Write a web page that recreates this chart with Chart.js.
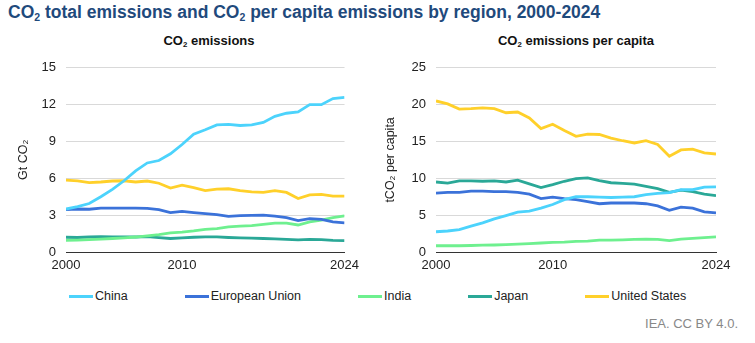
<!DOCTYPE html>
<html>
<head>
<meta charset="utf-8">
<script src="https://cdn.jsdelivr.net/npm/chart.js@4.4.1/dist/chart.umd.min.js"></script>
<style>
  body { margin: 0; width: 755px; height: 343px; background: #fff; position: relative; overflow: hidden;
         font-family: 'Liberation Sans', Arial, sans-serif; }
  .title { position: absolute; left: 8px; top: 2px; font-size: 17.5px; font-weight: bold; color: #1f4a7c; white-space: nowrap; }
  .sub { position: absolute; top: 33px; font-size: 13px; font-weight: bold; color: #111; transform: translateX(-50%); white-space: nowrap; }
  sub { font-size: 0.6em; vertical-align: -0.25em; line-height: 0; }
  .box { position: absolute; top: 50px; }
  #legend { position: absolute; left: 69px; top: 289px; display: flex; gap: 57px; font-size: 12.5px; color: #222; }
  #legend .item { display: flex; align-items: center; white-space: nowrap; }
  #legend .swatch { width: 24px; height: 3px; margin-right: 2px; }
  .source { position: absolute; right: 17px; top: 316px; font-size: 13px; color: #888; }
</style>
</head>
<body>
<div class="title">CO<sub>2</sub> total emissions and CO<sub>2</sub> per capita emissions by region, 2000-2024</div>
<div class="sub" style="left:209px">CO<sub>2</sub> emissions</div>
<div class="sub" style="left:576px">CO<sub>2</sub> emissions per capita</div>
<div class="box" style="left:0"><canvas id="total" width="365" height="225"></canvas></div>
<div class="box" style="left:370px"><canvas id="percap" width="385" height="225"></canvas></div>
<div id="legend"></div>
<div class="source">IEA. CC BY 4.0.</div>
<script>
const years = [2000,2001,2002,2003,2004,2005,2006,2007,2008,2009,2010,2011,2012,2013,2014,2015,2016,2017,2018,2019,2020,2021,2022,2023,2024];
const xTicks = [2000, 2010, 2024];
const regions = ['China', 'European Union', 'India', 'Japan', 'United States'];
const colors = ['#4cd3fc', '#3b72d9', '#6ef08f', '#2aa897', '#ffd02a'];

// Gt CO2
const totalChina = [3.5,3.7,3.95,4.5,5.1,5.8,6.6,7.25,7.45,8.0,8.75,9.6,9.95,10.35,10.4,10.3,10.35,10.55,11.05,11.3,11.4,12.0,12.0,12.5,12.6];
const totalEU = [3.45,3.5,3.48,3.57,3.58,3.57,3.57,3.55,3.45,3.2,3.3,3.2,3.12,3.05,2.9,2.97,2.98,3.0,2.93,2.8,2.55,2.72,2.65,2.45,2.38];
const totalIndia = [0.95,0.97,1.0,1.05,1.1,1.15,1.22,1.32,1.42,1.55,1.62,1.72,1.85,1.9,2.05,2.1,2.15,2.25,2.35,2.35,2.2,2.45,2.6,2.8,2.95];
const totalJapan = [1.2,1.18,1.22,1.24,1.22,1.23,1.22,1.25,1.17,1.1,1.15,1.2,1.23,1.23,1.18,1.15,1.13,1.1,1.07,1.02,0.99,1.02,1.0,0.95,0.93];
const totalUS = [5.85,5.8,5.65,5.7,5.78,5.8,5.7,5.78,5.6,5.2,5.45,5.25,5.0,5.12,5.15,5.0,4.9,4.85,5.0,4.85,4.35,4.65,4.7,4.55,4.55];

// tCO2 per capita
const capChina = [2.75,2.85,3.05,3.5,3.95,4.5,4.95,5.4,5.55,5.95,6.45,7.1,7.5,7.5,7.45,7.4,7.45,7.5,7.8,7.95,8.05,8.45,8.45,8.8,8.85];
const capEU = [8.0,8.1,8.1,8.25,8.25,8.2,8.2,8.1,7.85,7.25,7.45,7.25,7.1,6.85,6.55,6.65,6.65,6.65,6.55,6.25,5.65,6.1,5.95,5.45,5.3];
const capIndia = [0.85,0.85,0.85,0.88,0.92,0.95,1.0,1.08,1.15,1.22,1.3,1.35,1.45,1.48,1.6,1.6,1.65,1.7,1.75,1.7,1.55,1.75,1.85,1.95,2.05];
const capJapan = [9.5,9.35,9.65,9.65,9.6,9.65,9.5,9.75,9.25,8.75,9.15,9.6,9.95,10.05,9.7,9.4,9.3,9.2,8.9,8.6,8.1,8.4,8.2,7.85,7.65];
const capUS = [20.5,20.1,19.4,19.45,19.55,19.45,18.9,19.0,18.2,16.75,17.35,16.5,15.7,16.0,15.95,15.45,15.1,14.8,15.1,14.6,13.0,13.85,13.95,13.45,13.3];

Chart.defaults.font.family = "'Liberation Sans', Arial, sans-serif";
Chart.defaults.color = '#222';

function makeChart(id, series, yMax, yStep, yTitle, titlePad, rightPad) {
  new Chart(document.getElementById(id), {
    type: 'line',
    data: {
      datasets: series.map((vals, i) => ({
        label: regions[i],
        data: vals.map((v, j) => ({ x: years[j], y: v })),
        borderColor: colors[i],
        backgroundColor: colors[i],
        borderWidth: 2.8,
        pointRadius: 0,
        tension: 0
      }))
    },
    options: {
      responsive: false,
      animation: false,
      layout: { padding: { top: 7, right: rightPad, bottom: 0, left: 0 } },
      plugins: { legend: { display: false }, tooltip: { enabled: false } },
      scales: {
        x: {
          type: 'linear', min: 2000, max: 2024,
          afterBuildTicks: s => { s.ticks = xTicks.map(v => ({ value: v })); },
          afterFit: s => { s.height = 23; },
          ticks: { autoSkip: false, maxRotation: 0, padding: 6, font: { size: 13 }, callback: v => String(v) },
          grid: { display: false, drawTicks: false },
          border: { display: true, color: '#333', width: 1 }
        },
        y: {
          min: 0, max: yMax,
          afterFit: s => { s.width = 66; },
          ticks: { stepSize: yStep, padding: 10, font: { size: 13 } },
          grid: { color: c => c.tick.value === 0 ? 'rgba(0,0,0,0)' : '#d9d9d9', drawTicks: false },
          border: { display: false },
          title: { display: true, text: yTitle, font: { size: 12.5 }, padding: { top: titlePad, bottom: 0 } }
        }
      }
    }
  });
}

makeChart('total', [totalChina, totalEU, totalIndia, totalJapan, totalUS], 15, 3, 'Gt CO₂', 16, 12);
makeChart('percap', [capChina, capEU, capIndia, capJapan, capUS], 25, 5, 'tCO₂ per capita', 13, 39);

document.getElementById('legend').innerHTML = regions.map((r, i) =>
  `<div class="item"><span class="swatch" style="background:${colors[i]}"></span>${r}</div>`).join('');
</script>
</body>
</html>
